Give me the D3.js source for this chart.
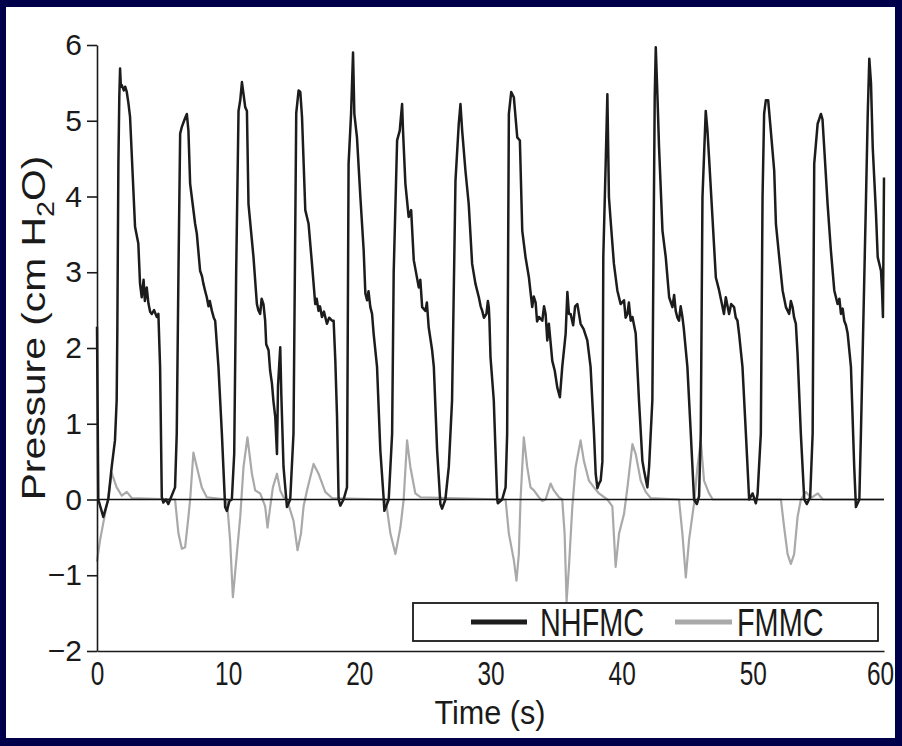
<!DOCTYPE html>
<html>
<head>
<meta charset="utf-8">
<script src="https://cdn.jsdelivr.net/npm/d3@7"></script>
<style>
  html, body { margin: 0; padding: 0; background: #00004a; }
  svg { display: block; }
  text { font-family: "Liberation Sans", Arial, Helvetica, sans-serif; fill: #1a1a1a; }
</style>
</head>
<body>
<svg id="chart" width="902" height="746"></svg>
<script>
// ---- Data ----
const seriesNames = ["NHFMC", "FMMC"];
const xTicks = [0, 10, 20, 30, 40, 50, 60];
const yTicks = [-2, -1, 0, 1, 2, 3, 4, 5, 6];

const nhfmcTime = [0.00,0.10,0.48,0.86,1.12,1.37,1.50,1.55,1.63,1.70,1.76,1.82,1.89,2.05,2.15,2.27,2.39,2.52,2.90,3.15,3.28,3.41,3.55,3.65,3.79,3.92,4.05,4.18,4.35,4.56,4.68,4.81,4.94,5.06,5.25,5.44,5.95,6.08,
6.21,6.34,6.47,6.64,6.75,6.85,6.97,7.10,7.48,7.61,7.86,8.00,8.11,8.25,8.37,8.50,8.60,8.76,8.90,9.01,9.26,9.52,9.77,9.90,10.10,10.28,10.46,
10.61,10.79,10.92,11.05,11.30,11.43,11.55,11.93,12.19,12.30,12.44,12.55,12.69,12.82,12.90,13.08,13.20,13.34,13.45,13.59,13.72,13.80,13.97,14.05,14.22,14.48,14.73,14.98,
15.19,15.37,15.50,15.63,15.88,16.13,16.39,16.64,16.75,16.89,17.00,17.15,17.30,17.53,17.70,17.92,18.04,18.17,18.30,18.42,18.55,18.80,19.06,
19.18,19.37,19.52,19.62,19.82,20.08,20.33,20.46,20.59,20.70,20.84,20.97,21.09,21.35,21.60,21.86,21.91,22.24,22.50,
22.62,22.88,23.08,23.26,23.33,23.51,23.76,23.95,24.15,24.53,24.65,24.79,25.04,25.15,25.29,25.55,25.68,25.93,26.18,26.31,26.56,26.82,27.07,
27.33,27.58,27.71,27.84,28.09,28.34,28.60,28.85,29.11,29.25,29.37,29.50,29.69,29.80,29.87,29.92,30.00,30.25,30.38,30.51,30.56,30.89,31.15,31.27,
31.40,31.58,31.78,32.04,32.24,32.42,32.67,32.93,33.18,33.30,33.44,33.55,33.69,33.95,34.08,34.20,34.33,34.45,34.71,34.90,35.09,35.29,35.47,35.73,35.86,35.98,36.11,36.30,36.45,36.62,36.87,37.10,37.38,37.63,37.89,38.02,38.15,38.27,38.40,38.53,
38.60,38.78,38.91,39.03,39.16,39.41,39.67,39.92,40.18,40.30,40.44,40.55,40.69,40.82,41.07,41.32,41.58,41.71,41.96,42.09,42.34,
42.52,42.60,42.73,42.85,43.11,43.36,43.62,43.87,44.00,44.12,44.25,44.37,44.50,44.63,44.73,45.01,45.27,45.52,45.73,45.90,46.03,
46.16,46.41,46.54,46.66,46.92,47.18,47.43,47.69,47.80,47.94,48.19,48.35,48.57,48.70,48.83,48.95,49.21,49.47,49.72,49.98,50.23,50.36,50.61,
50.74,50.86,50.99,51.17,51.37,51.63,51.76,52.01,52.27,52.52,52.77,52.90,53.03,53.15,53.28,53.41,53.66,53.92,54.12,54.37,54.56,
54.68,54.94,55.06,55.19,55.31,55.44,55.70,55.95,56.21,56.46,56.60,56.72,56.85,56.97,57.10,57.23,57.48,57.73,57.86,58.12,58.24,
58.63,58.76,58.88,59.01,59.14,59.39,59.52,59.77,59.85,59.92,60.00];

const nhfmcPressure = [2.28,0.00,-0.23,0.00,0.43,0.78,1.31,2.23,4.43,5.31,5.69,5.45,5.47,5.40,5.45,5.38,5.24,5.05,3.60,3.38,2.85,2.67,2.90,2.62,2.80,2.59,2.48,2.45,2.50,2.41,2.45,1.75,0.03,-0.04,0.00,-0.06,0.16,0.87,
3.00,4.83,4.92,5.00,5.05,5.09,4.87,4.17,3.64,3.51,3.02,2.95,2.85,2.75,2.67,2.55,2.62,2.49,2.40,2.36,1.75,0.87,-0.10,-0.15,-0.02,0.00,0.60,
3.00,5.13,5.27,5.51,5.18,5.13,3.90,3.20,2.58,2.50,2.45,2.65,2.58,2.36,2.05,1.97,1.70,1.53,1.30,1.09,0.60,1.50,2.01,1.40,0.43,-0.10,0.00,0.87,
5.10,5.40,5.38,5.05,3.82,3.64,3.11,2.58,2.65,2.49,2.55,2.41,2.48,2.32,2.40,2.36,2.36,1.83,1.09,0.00,-0.08,0.00,0.16,
4.43,5.09,5.90,5.09,4.78,3.99,3.29,2.72,2.63,2.75,2.54,2.45,2.19,1.75,0.65,0.00,-0.15,0.00,0.87,
3.00,4.74,4.87,5.22,4.87,4.17,3.73,3.82,3.16,2.80,2.90,2.54,2.49,2.60,2.27,1.97,1.75,0.65,-0.06,-0.12,0.00,0.43,1.31,
4.21,4.96,5.22,4.87,4.34,3.90,3.11,2.85,2.67,2.55,2.49,2.40,2.45,2.62,2.54,2.36,1.88,1.31,0.65,0.00,-0.05,0.00,0.16,0.87,
5.09,5.38,5.31,4.78,4.74,3.55,3.20,2.93,2.54,2.68,2.60,2.35,2.41,2.36,2.55,2.45,2.10,2.32,1.83,1.70,1.48,1.35,1.75,2.19,2.74,2.45,2.45,2.30,2.55,2.58,2.32,2.25,2.10,1.75,0.87,0.34,0.15,0.21,0.25,0.50,
3.20,4.43,5.35,3.99,3.68,3.11,2.76,2.58,2.63,2.40,2.45,2.60,2.36,2.41,2.19,1.31,0.51,0.38,0.16,0.43,1.31,
5.31,5.97,5.31,4.65,3.55,3.20,2.67,2.54,2.70,2.49,2.40,2.36,2.55,2.41,2.27,1.75,0.87,0.00,-0.06,0.04,0.87,
3.99,5.13,4.87,4.52,3.73,2.93,2.76,2.54,2.45,2.67,2.45,2.58,2.54,2.40,2.36,2.19,1.75,0.87,0.00,0.08,-0.05,0.07,0.87,
3.99,5.09,5.27,5.27,4.87,4.34,3.64,3.20,2.76,2.54,2.45,2.62,2.54,2.40,2.32,1.92,0.87,0.00,-0.06,0.03,0.87,
4.43,4.96,5.02,5.09,5.02,4.65,3.90,3.29,2.76,2.58,2.65,2.45,2.52,2.36,2.30,2.19,1.75,0.43,-0.10,0.00,0.87,
3.99,5.09,5.82,5.49,4.65,3.77,3.20,3.02,2.76,2.41,4.25];

const fmmcTime = [0.00,0.23,0.61,0.86,1.12,1.50,1.89,2.27,2.65,5.95,6.21,6.47,6.72,6.97,7.10,7.35,7.61,7.99,8.37,
9.90,10.15,10.36,10.66,10.92,11.17,11.47,11.81,12.06,12.44,12.82,13.00,13.21,13.41,13.72,13.97,14.22,
14.48,14.98,15.29,15.55,15.75,16.01,16.51,16.89,17.40,17.92,
22.01,22.37,22.75,23.13,23.38,23.64,23.89,24.27,24.66,
31.15,31.40,31.78,31.98,32.16,32.29,32.54,32.80,33.05,33.31,33.69,33.95,34.20,34.58,34.83,35.22,35.47,35.65,35.80,35.98,36.24,36.49,36.87,37.12,37.50,37.89,38.27,38.91,
39.29,39.54,39.80,40.18,40.44,40.82,41.07,41.45,41.83,42.21,
44.37,44.63,44.89,45.14,45.52,45.78,46.03,46.28,46.66,46.95,
52.14,52.39,52.65,52.90,53.15,53.41,53.66,54.05,54.43,54.96,55.34,60.00];

const fmmcPressure = [-0.82,-0.54,-0.19,0.03,0.35,0.16,0.05,0.10,0.02,0.00,-0.45,-0.65,-0.63,-0.23,0.00,0.62,0.43,0.16,0.03,
0.00,-0.54,-1.29,-0.72,-0.23,0.43,0.82,0.34,0.12,0.08,-0.09,-0.37,-0.09,0.16,0.34,0.12,0.03,
0.00,-0.28,-0.67,-0.45,-0.09,0.12,0.47,0.34,0.10,0.02,
0.00,-0.45,-0.72,-0.37,0.00,0.78,0.43,0.08,0.03,
0.00,-0.45,-0.80,-1.07,-0.72,0.00,0.82,0.43,0.16,0.12,0.03,-0.02,0.00,0.21,0.12,0.03,0.00,-0.45,-1.35,-0.89,-0.09,0.43,0.78,0.51,0.25,0.16,0.08,0.00,
-0.09,-0.89,-0.45,-0.19,0.16,0.73,0.60,0.25,0.10,0.02,
0.00,-0.45,-1.03,-0.53,-0.05,0.43,0.78,0.25,0.08,0.00,
0.00,-0.37,-0.72,-0.85,-0.72,-0.23,0.00,0.10,0.02,0.08,0.00,0.00];

// ---- Layout ----
const svg = d3.select("#chart");
const W = 902, H = 746;
const plot = { left: 97, right: 884, top: 45, bottom: 651 };

svg.append("rect").attr("x", 0).attr("y", 0).attr("width", W).attr("height", H).attr("fill", "#00004a");
svg.append("rect").attr("x", 6).attr("y", 7).attr("width", 889).attr("height", 731).attr("fill", "#ffffff");

const x = d3.scaleLinear().domain([0, 60]).range([plot.left, plot.right]);
const y = d3.scaleLinear().domain([-2, 6]).range([plot.bottom, plot.top]);

const line = d3.line().x(d => x(d[0])).y(d => y(d[1]));
const fmmcData = fmmcTime.map((t, i) => [t, fmmcPressure[i]]);
const nhfmcData = nhfmcTime.map((t, i) => [t, nhfmcPressure[i]]);

svg.append("path").datum(fmmcData).attr("d", line)
  .attr("fill", "none").attr("stroke", "#a9a9a9").attr("stroke-width", 2.2).attr("stroke-linejoin", "round");

// zero reference line (over the grey trace, under the black one)
svg.append("line")
  .attr("x1", x(0)).attr("x2", x(60)).attr("y1", y(0)).attr("y2", y(0))
  .attr("stroke", "#111").attr("stroke-width", 1.5);

svg.append("path").datum(nhfmcData).attr("d", line)
  .attr("fill", "none").attr("stroke", "#1c1c1c").attr("stroke-width", 2.5).attr("stroke-linejoin", "round");

// Y axis
const yAxis = svg.append("g").attr("transform", `translate(${plot.left},0)`)
  .call(d3.axisLeft(y).tickValues(yTicks).tickSize(10).tickSizeOuter(0).tickPadding(5));
yAxis.select(".domain").attr("stroke", "#1a1a1a").attr("stroke-width", 1.6);
yAxis.selectAll(".tick line").attr("stroke", "#1a1a1a").attr("stroke-width", 1.6);
yAxis.selectAll(".tick text").attr("font-size", 30).attr("fill", "#1a1a1a")
  .style("font-family", "'Liberation Sans', Arial, sans-serif");

// X axis
const xAxis = svg.append("g").attr("transform", `translate(0,${plot.bottom})`)
  .call(d3.axisBottom(x).tickValues(xTicks).tickSize(0).tickSizeOuter(0).tickPadding(0));
xAxis.select(".domain").attr("stroke", "#1a1a1a").attr("stroke-width", 1.6);
xAxis.selectAll(".tick text")
  .attr("font-size", 33).attr("fill", "#1a1a1a")
  .attr("y", 34).attr("dy", 0)
  .attr("transform", d => d === 60 ? "translate(-4,0) scale(0.74,1)" : "scale(0.74,1)")
  .style("font-family", "'Liberation Sans', Arial, sans-serif");

// axis titles
const yTitle = svg.append("text")
  .attr("transform", `translate(45,328) rotate(-90) scale(1.2,1)`)
  .attr("text-anchor", "middle").attr("font-size", 34);
yTitle.append("tspan").text("Pressure (cm H");
yTitle.append("tspan").attr("font-size", 24).attr("dy", 9).text("2");
yTitle.append("tspan").attr("dy", -9).text("O)");

svg.append("text")
  .attr("transform", `translate(490,724) scale(0.9,1)`)
  .attr("text-anchor", "middle").attr("font-size", 34).text("Time (s)");

// Legend
const legend = svg.append("g");
legend.append("rect").attr("x", 413).attr("y", 603).attr("width", 465).attr("height", 38)
  .attr("fill", "#fff").attr("stroke", "#1a1a1a").attr("stroke-width", 1.8);
const legendItems = [
  { name: seriesNames[0], color: "#1c1c1c", x1: 471, x2: 527, tx: 540 },
  { name: seriesNames[1], color: "#a9a9a9", x1: 675, x2: 732, tx: 737 }
];
legendItems.forEach(it => {
  legend.append("line").attr("x1", it.x1).attr("x2", it.x2).attr("y1", 622).attr("y2", 622)
    .attr("stroke", it.color).attr("stroke-width", 5);
  legend.append("text").attr("transform", `translate(${it.tx},636) scale(0.74,1)`)
    .attr("font-size", 39).text(it.name);
});
</script>
</body>
</html>
